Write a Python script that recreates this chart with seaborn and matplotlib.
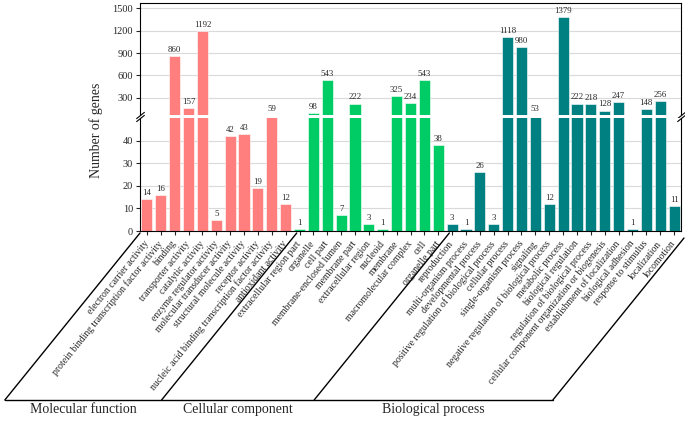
import matplotlib
matplotlib.use("Agg")
import matplotlib.pyplot as plt
import seaborn as sns
import pandas as pd
from matplotlib.lines import Line2D

# GO terms per ontology, counts
mf_terms = ["electron carrier activity", "protein binding transcription factor activity",
            "binding", "transporter activity", "catalytic activity", "enzyme regulator activity",
            "molecular transducer activity", "structural molecule activity", "receptor activity",
            "nucleic acid binding transcription factor activity", "antioxidant activity"]
mf_counts = [14, 16, 860, 157, 1192, 5, 42, 43, 19, 59, 12]

cc_terms = ["extracellular region part", "organelle", "cell part", "membrane-enclosed lumen",
            "membrane part", "extracellular region", "nucleoid", "membrane",
            "macromolecular complex", "cell", "organelle part"]
cc_counts = [1, 98, 543, 7, 222, 3, 1, 325, 234, 543, 38]

bp_terms = ["reproduction", "multi-organism process", "developmental process",
            "positive regulation of biological process", "cellular process",
            "single-organism process", "signaling", "negative regulation of biological process",
            "metabolic process", "biological regulation", "regulation of biological process",
            "cellular component organization or biogenesis", "establishment of localization",
            "biological adhesion", "response to stimulus", "localization", "locomotion"]
bp_counts = [3, 1, 26, 3, 1118, 980, 53, 12, 1379, 222, 218, 128, 247, 1, 148, 256, 11]

groups = ["Molecular function", "Cellular component", "Biological process"]
colors = ["#FF7F7F", "#00CC66", "#008080"]

upper_ticks = [300, 600, 900, 1200, 1500]
lower_ticks = [0, 10, 20, 30, 40]

df = pd.DataFrame({
    "term": mf_terms + cc_terms + bp_terms,
    "count": mf_counts + cc_counts + bp_counts,
    "group": [groups[0]] * len(mf_terms) + [groups[1]] * len(cc_terms) + [groups[2]] * len(bp_terms),
})
n = len(df)

sns.set_style("ticks")
plt.rcParams["font.family"] = ["Liberation Serif", "DejaVu Serif"]

W, H = 685, 421
fig = plt.figure(figsize=(W / 100, H / 100), dpi=100)

def px(x0, y0, x1, y1):
    # pixel box (from top-left) -> figure fraction rect
    return [x0 / W, 1 - y1 / H, (x1 - x0) / W, (y1 - y0) / H]

ax_top = fig.add_axes(px(140, 3, 681, 115))
ax_bot = fig.add_axes(px(140, 118, 681, 231))

top_lim = (68, 1571)
bot_lim = (0, 50)

for ax in (ax_top, ax_bot):
    sns.barplot(data=df, x="term", y="count", hue="group", palette=colors,
                dodge=False, width=0.8, errorbar=None, legend=False, saturation=1,
                edgecolor="white", linewidth=0.4, ax=ax, zorder=2)
    ax.set_xlim(-0.5, n - 0.5)
    ax.set_xlabel("")
    ax.set_ylabel("")
    ax.yaxis.grid(True, color="#dadada", lw=0.8, zorder=0)
    ax.set_axisbelow(True)
    for s in ax.spines.values():
        s.set_linewidth(0.8)
        s.set_color("black")
    ax.tick_params(axis="y", labelsize=7.5, length=3, width=0.8, pad=2)

ax_top.set_ylim(*top_lim)
ax_top.set_yticks(upper_ticks)
ax_top.spines["bottom"].set_visible(False)
ax_top.tick_params(axis="x", bottom=False, labelbottom=False)

ax_bot.set_ylim(*bot_lim)
ax_bot.set_yticks(lower_ticks)
ax_bot.spines["top"].set_visible(False)
ax_bot.set_xticks(range(n))
ax_bot.set_xticklabels(df["term"], rotation=51, ha="right", va="center",
                       rotation_mode="anchor", fontsize=7.0)
ax_bot.tick_params(axis="x", length=3, width=0.8, pad=5)

# value labels
for i, v in enumerate(df["count"]):
    if v <= bot_lim[1]:
        ax_bot.annotate(str(v), (i, v), xytext=(0, 1.5), textcoords="offset points",
                        ha="center", va="bottom", fontsize=6.3, annotation_clip=False)
    else:
        ax_top.annotate(str(v), (i, max(v, top_lim[0])), xytext=(0, 1.5),
                        textcoords="offset points", ha="center", va="bottom",
                        fontsize=6.3, annotation_clip=False)

# break marks
d = 0.8
kw = dict(marker=[(-1, -d), (1, d)], markersize=6, linestyle="none",
          color="black", mec="black", mew=0.8, clip_on=False)
ax_top.plot([0, 1], [0, 0], transform=ax_top.transAxes, **kw)
ax_bot.plot([0, 1], [1, 1], transform=ax_bot.transAxes, **kw)

fig.text(96 / W, 1 - 130 / H, "Number of genes", rotation=90, ha="center", va="center",
         fontsize=10)

# ontology parallelograms under the axis
def data_px(xd):
    return ax_bot.transData.transform((xd, 0))[0] / fig.dpi * 100

y_bottom = 400
slope = 136 / 168
bounds = [-0.5, len(mf_terms) - 0.2, len(mf_terms) + len(cc_terms) - 0.2]
tops = [(data_px(b), 233) for b in bounds] + [(data_px(n - 0.5) + 3, 238)]
bots = [tx - slope * (y_bottom - ty) for tx, ty in tops]
for (tx, ty), b in zip(tops, bots):
    fig.add_artist(Line2D([tx / W, b / W], [1 - ty / H, 1 - y_bottom / H],
                          color="black", lw=1.0))
fig.add_artist(Line2D([bots[0] / W, bots[-1] / W], [1 - y_bottom / H] * 2,
                      color="black", lw=1.0))
for k, g in enumerate(groups):
    cx = (bots[k] + bots[k + 1]) / 2
    fig.text(cx / W, 1 - 403 / H, g, ha="center", va="top", fontsize=10)

fig.savefig("out.png", dpi=100)
